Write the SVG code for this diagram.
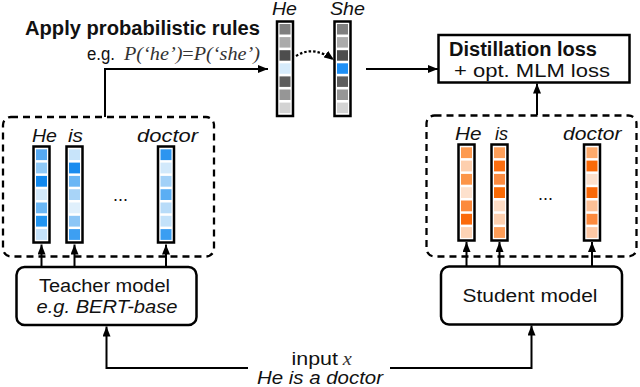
<svg xmlns="http://www.w3.org/2000/svg" width="640" height="387" viewBox="0 0 640 387">
<defs>
<style>
text{font-family:"Liberation Sans",Arial,Helvetica,sans-serif;font-size:18px;fill:#111}
.b{font-weight:bold;font-size:19.5px}
.i{font-style:italic}
.m{font-family:"Liberation Serif","Times New Roman",serif;font-style:italic;fill:#333}
.box{fill:#fff;stroke:#000;stroke-width:2.5}
.dash{fill:none;stroke:#000;stroke-width:2.3;stroke-dasharray:7 5}
.vec{fill:#fff;stroke:#000;stroke-width:2.5}
.con{fill:none;stroke:#000;stroke-width:2}
.dot{fill:none;stroke:#000;stroke-width:2.2;stroke-dasharray:2.5 2}
</style>
<marker id="ah" markerUnits="userSpaceOnUse" markerWidth="10" markerHeight="8" refX="10" refY="4" orient="auto">
<path d="M0,0 L10,4 L0,8 z" fill="#000"/>
</marker>
</defs>

<g id="connectors">
<path class="con" d="M105,117 V69 H268" marker-end="url(#ah)"/>
<path class="dot" d="M296,56 Q313,45 334,60" marker-end="url(#ah)"/>
<path class="con" d="M366,69 H438" marker-end="url(#ah)"/>
<path class="con" d="M537,115 V83.5" marker-end="url(#ah)"/>
<path class="con" d="M41.5,267 V244.5" marker-end="url(#ah)"/>
<path class="con" d="M74.5,267 V244.5" marker-end="url(#ah)"/>
<path class="con" d="M166,267 V244.5" marker-end="url(#ah)"/>
<path class="con" d="M466.5,266.5 V242" marker-end="url(#ah)"/>
<path class="con" d="M499.5,266.5 V242" marker-end="url(#ah)"/>
<path class="con" d="M592,266.5 V242" marker-end="url(#ah)"/>
<path class="con" d="M248,368 H106.5 V326.5" marker-end="url(#ah)"/>
<path class="con" d="M390,368 H531.5 V325.5" marker-end="url(#ah)"/>
</g>

<g id="rules-label">
<text class="b" x="25" y="35" textLength="235" lengthAdjust="spacingAndGlyphs">Apply probabilistic rules</text>
<text x="87" y="60" textLength="28" lengthAdjust="spacingAndGlyphs" fill="#222">e.g.</text>
<text class="m" x="124" y="60" font-size="19" textLength="136" lengthAdjust="spacingAndGlyphs">P(‘he’)<tspan font-style="normal">=</tspan>P(‘she’)</text>
</g>

<g id="vec-he">
<text class="i" x="272" y="15" font-size="17" textLength="25" lengthAdjust="spacingAndGlyphs">He</text>
<rect class="vec" x="277" y="21.5" width="16" height="94.5"/>
<rect x="279.5" y="24" width="11" height="10.5" fill="#7f7f7f"/>
<rect x="279.5" y="37.1" width="11" height="10.5" fill="#ababab"/>
<rect x="279.5" y="50.2" width="11" height="10.5" fill="#4d4d4d"/>
<rect x="279.5" y="63.3" width="11" height="10.5" fill="#d6ebfb"/>
<rect x="279.5" y="76.4" width="11" height="10.5" fill="#5e5e5e"/>
<rect x="279.5" y="89.5" width="11" height="10.5" fill="#969696"/>
<rect x="279.5" y="102.6" width="11" height="10.5" fill="#d3d3d3"/>
</g>

<g id="vec-she">
<text class="i" x="330" y="15" font-size="17" textLength="35" lengthAdjust="spacingAndGlyphs">She</text>
<rect class="vec" x="334.5" y="21.5" width="16" height="94.5"/>
<rect x="337" y="24" width="11" height="10.5" fill="#7f7f7f"/>
<rect x="337" y="37.1" width="11" height="10.5" fill="#ababab"/>
<rect x="337" y="50.2" width="11" height="10.5" fill="#4d4d4d"/>
<rect x="337" y="63.3" width="11" height="10.5" fill="#1e8ff5"/>
<rect x="337" y="76.4" width="11" height="10.5" fill="#5e5e5e"/>
<rect x="337" y="89.5" width="11" height="10.5" fill="#969696"/>
<rect x="337" y="102.6" width="11" height="10.5" fill="#d3d3d3"/>
</g>

<g id="distillation-loss">
<rect class="box" x="438.5" y="35" width="191" height="47.5"/>
<text class="b" x="449" y="55.5" textLength="148" lengthAdjust="spacingAndGlyphs">Distillation loss</text>
<text x="454" y="77" textLength="156" lengthAdjust="spacingAndGlyphs">+ opt. MLM loss</text>
</g>

<g id="teacher-outputs">
<rect class="dash" x="3" y="117" width="211" height="139.5" rx="8"/>
<text class="i" x="32" y="141.5" textLength="25" lengthAdjust="spacingAndGlyphs">He</text>
<text class="i" x="68" y="141.5" textLength="15" lengthAdjust="spacingAndGlyphs">is</text>
<text class="i" x="137" y="141.5" textLength="61" lengthAdjust="spacingAndGlyphs">doctor</text>
<text x="113" y="201" textLength="15" lengthAdjust="spacingAndGlyphs">...</text>
<rect class="vec" x="33.5" y="146.5" width="16" height="96"/>
<rect x="36" y="149.3" width="11" height="10.8" fill="#56a9f2"/>
<rect x="36" y="162.6" width="11" height="10.8" fill="#8fc9f7"/>
<rect x="36" y="175.9" width="11" height="10.8" fill="#1188ee"/>
<rect x="36" y="189.2" width="11" height="10.8" fill="#d4eafb"/>
<rect x="36" y="202.5" width="11" height="10.8" fill="#6bb7f5"/>
<rect x="36" y="215.8" width="11" height="10.8" fill="#2294f0"/>
<rect x="36" y="229.1" width="11" height="10.8" fill="#c5e2fa"/>
<rect class="vec" x="66.5" y="146.5" width="16" height="96"/>
<rect x="69" y="149.3" width="11" height="10.8" fill="#c8e4fa"/>
<rect x="69" y="162.6" width="11" height="10.8" fill="#1a8cef"/>
<rect x="69" y="175.9" width="11" height="10.8" fill="#6ab6f5"/>
<rect x="69" y="189.2" width="11" height="10.8" fill="#a8d4f8"/>
<rect x="69" y="202.5" width="11" height="10.8" fill="#e0f0fc"/>
<rect x="69" y="215.8" width="11" height="10.8" fill="#8cc6f6"/>
<rect x="69" y="229.1" width="11" height="10.8" fill="#3d9ff2"/>
<rect class="vec" x="158" y="146.5" width="16" height="96"/>
<rect x="160.5" y="149.3" width="11" height="10.8" fill="#2c95f0"/>
<rect x="160.5" y="162.6" width="11" height="10.8" fill="#d2e9fb"/>
<rect x="160.5" y="175.9" width="11" height="10.8" fill="#a2d1f8"/>
<rect x="160.5" y="189.2" width="11" height="10.8" fill="#5aaef4"/>
<rect x="160.5" y="202.5" width="11" height="10.8" fill="#b8dcf9"/>
<rect x="160.5" y="215.8" width="11" height="10.8" fill="#c3e2fa"/>
<rect x="160.5" y="229.1" width="11" height="10.8" fill="#3a9ef2"/>
</g>

<g id="student-outputs">
<rect class="dash" x="426.5" y="115.5" width="210" height="141" rx="8"/>
<text class="i" x="455" y="139.5" textLength="26.5" lengthAdjust="spacingAndGlyphs">He</text>
<text class="i" x="495" y="139.5" textLength="13" lengthAdjust="spacingAndGlyphs">is</text>
<text class="i" x="563" y="139.5" textLength="58.5" lengthAdjust="spacingAndGlyphs">doctor</text>
<text x="538" y="200" textLength="15" lengthAdjust="spacingAndGlyphs">...</text>
<rect class="vec" x="458.5" y="144.5" width="16" height="96"/>
<rect x="461" y="147.3" width="11" height="10.8" fill="#fd9a50"/>
<rect x="461" y="160.6" width="11" height="10.8" fill="#fdcfae"/>
<rect x="461" y="173.9" width="11" height="10.8" fill="#fc9548"/>
<rect x="461" y="187.2" width="11" height="10.8" fill="#fde1cd"/>
<rect x="461" y="200.5" width="11" height="10.8" fill="#fc8a3c"/>
<rect x="461" y="213.8" width="11" height="10.8" fill="#fb6a0a"/>
<rect x="461" y="227.1" width="11" height="10.8" fill="#fdd3b5"/>
<rect class="vec" x="491.5" y="144.5" width="16" height="96"/>
<rect x="494" y="147.3" width="11" height="10.8" fill="#fd9f5a"/>
<rect x="494" y="160.6" width="11" height="10.8" fill="#fb6e10"/>
<rect x="494" y="173.9" width="11" height="10.8" fill="#fc8b40"/>
<rect x="494" y="187.2" width="11" height="10.8" fill="#f96a05"/>
<rect x="494" y="200.5" width="11" height="10.8" fill="#fddcc5"/>
<rect x="494" y="213.8" width="11" height="10.8" fill="#fdd0b0"/>
<rect x="494" y="227.1" width="11" height="10.8" fill="#fd9d58"/>
<rect class="vec" x="584" y="144.5" width="16" height="96"/>
<rect x="586.5" y="147.3" width="11" height="10.8" fill="#fdaa6c"/>
<rect x="586.5" y="160.6" width="11" height="10.8" fill="#fa6a08"/>
<rect x="586.5" y="173.9" width="11" height="10.8" fill="#fde0cc"/>
<rect x="586.5" y="187.2" width="11" height="10.8" fill="#f96808"/>
<rect x="586.5" y="200.5" width="11" height="10.8" fill="#fdc096"/>
<rect x="586.5" y="213.8" width="11" height="10.8" fill="#fc8a3e"/>
<rect x="586.5" y="227.1" width="11" height="10.8" fill="#fdc8a5"/>
</g>

<g id="teacher-model">
<rect class="box" x="16.5" y="267" width="180" height="58" rx="8"/>
<text x="39" y="291.5" font-size="19" textLength="131" lengthAdjust="spacingAndGlyphs">Teacher model</text>
<text class="i" x="36.5" y="312.5" font-size="19" textLength="141" lengthAdjust="spacingAndGlyphs">e.g. BERT-base</text>
</g>

<g id="student-model">
<rect class="box" x="441" y="266.5" width="181" height="58" rx="8"/>
<text x="462.5" y="302" font-size="19" textLength="135" lengthAdjust="spacingAndGlyphs">Student model</text>
</g>

<g id="input">
<text x="291.5" y="365" textLength="46.5" lengthAdjust="spacingAndGlyphs">input</text>
<text class="m" x="342.7" y="365" textLength="9" lengthAdjust="spacingAndGlyphs">x</text>
<text class="i" x="257" y="384" textLength="126" lengthAdjust="spacingAndGlyphs">He is a doctor</text>
</g>
</svg>
